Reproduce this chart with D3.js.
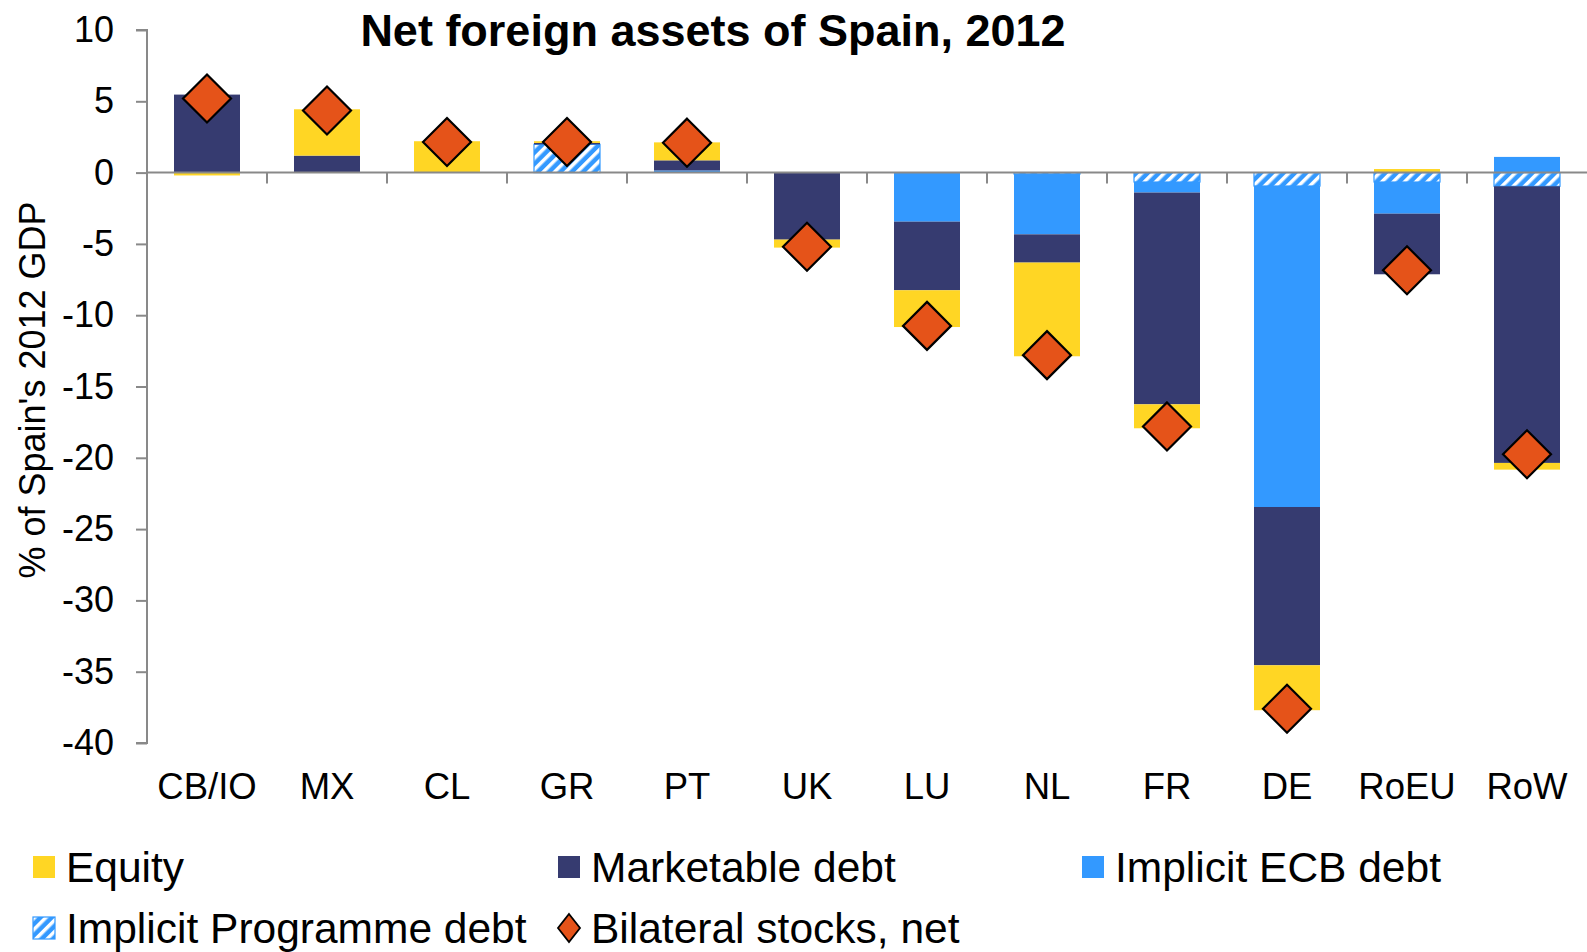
<!DOCTYPE html>
<html>
<head>
<meta charset="utf-8">
<script src="https://cdn.jsdelivr.net/npm/d3@7"></script>
<style>
  html, body { margin: 0; padding: 0; background: #fff; }
  svg { display: block; font-family: "Liberation Sans", Arial, Helvetica, sans-serif; }
</style>
</head>
<body>
<svg id="chart" width="1587" height="952"></svg>
<script>
// ---- data ----
const categories = ["CB/IO","MX","CL","GR","PT","UK","LU","NL","FR","DE","RoEU","RoW"];
const programmeDebt = [0, 0, 0, 1.98, 0, 0, 0, -0.1, -0.66, -0.94, -0.66, -0.96];
const ecbDebt       = [0, 0, 0, 0, 0.15, 0, -3.44, -4.23, -0.74, -22.51, -2.22, 1.1];
const marketable    = [5.47, 1.19, 0, 0.1, 0.71, -4.7, -4.81, -1.98, -14.85, -11.1, -4.25, -19.4];
const equity        = [-0.2, 3.25, 2.2, 0.12, 1.26, -0.56, -2.58, -6.57, -1.68, -3.15, 0.25, -0.47];
const bilateralNet  = [5.2, 4.35, 2.15, 2.15, 2.1, -5.2, -10.75, -12.8, -17.8, -37.6, -6.85, -19.75];
const yTicks = [10, 5, 0, -5, -10, -15, -20, -25, -30, -35, -40];

const seriesKeys = ["programme", "ecb", "marketable", "equity"];
const table = categories.map((c, i) => ({
  cat: c,
  programme: programmeDebt[i],
  ecb: ecbDebt[i],
  marketable: marketable[i],
  equity: equity[i],
  net: bilateralNet[i]
}));

const colors = {
  equity: "#FFD624",
  marketable: "#363B70",
  ecb: "#3399FF",
  programme: "url(#hatch)",
  diamond: "#E55319"
};

const svg = d3.select("#chart");
const plotLeft = 147, plotRight = 1587, plotTop = 30, plotBottom = 743;

// hatch pattern
const defs = svg.append("defs");
const pat = defs.append("pattern")
  .attr("id", "hatch")
  .attr("patternUnits", "userSpaceOnUse")
  .attr("width", 8).attr("height", 8)
  .attr("patternTransform", "rotate(45)");
pat.append("rect").attr("width", 8).attr("height", 8).attr("fill", "#3399FF");
pat.append("rect").attr("width", 3.5).attr("height", 8).attr("fill", "#ffffff");

const x = d3.scaleBand().domain(categories).range([plotLeft, plotRight])
  .paddingInner(0.45).paddingOuter(0.225);
const y = d3.scaleLinear().domain([-40, 10]).range([plotBottom, plotTop]);

const stack = d3.stack().keys(seriesKeys).offset(d3.stackOffsetDiverging);
const stacked = stack(table);

// bars
const g = svg.append("g");
stacked.forEach(layer => {
  g.append("g").selectAll("rect").data(layer.filter(d => d[0] !== d[1])).join("rect")
    .attr("x", d => x(d.data.cat))
    .attr("width", x.bandwidth())
    .attr("y", d => y(Math.max(d[0], d[1])))
    .attr("height", d => Math.abs(y(d[0]) - y(d[1])))
    .attr("fill", colors[layer.key])
    .attr("stroke", layer.key === "programme" ? "#3399FF" : "none")
    .attr("stroke-width", layer.key === "programme" ? 1.2 : 0);
});

// y axis
const axisColor = "#898989";
const yAxis = svg.append("g").attr("transform", `translate(${plotLeft},0)`)
  .call(d3.axisLeft(y).tickValues(yTicks).tickSize(11).tickPadding(22).tickFormat(d => String(d)));
yAxis.select(".domain").attr("stroke", axisColor).attr("stroke-width", 2)
  .attr("d", `M-11,${y(10)}H0V${y(-40)}H-11`);
yAxis.selectAll(".tick line").attr("stroke", axisColor).attr("stroke-width", 2);
yAxis.selectAll(".tick text").attr("fill", "#000").attr("font-size", 36)
  .attr("font-family", "'Liberation Sans', Arial, sans-serif");

// x axis at zero
const zeroY = y(0);
svg.append("line").attr("x1", plotLeft).attr("x2", plotRight).attr("y1", zeroY).attr("y2", zeroY)
  .attr("stroke", axisColor).attr("stroke-width", 2);
const step = x.step();
svg.append("g").selectAll("line").data(categories.slice(1)).join("line")
  .attr("x1", d => x(d) - x.paddingInner() * step / 2)
  .attr("x2", d => x(d) - x.paddingInner() * step / 2)
  .attr("y1", zeroY).attr("y2", zeroY + 11)
  .attr("stroke", axisColor).attr("stroke-width", 2);

// category labels
svg.append("g").selectAll("text").data(categories).join("text")
  .attr("x", d => x(d) + x.bandwidth() / 2)
  .attr("y", 799)
  .attr("text-anchor", "middle")
  .attr("font-size", 36.5)
  .text(d => d);

// diamonds
const dh = 24;
svg.append("g").selectAll("path").data(table).join("path")
  .attr("transform", d => `translate(${x(d.cat) + x.bandwidth() / 2},${y(d.net)})`)
  .attr("d", `M0,${-dh}L${dh},0L0,${dh}L${-dh},0Z`)
  .attr("fill", colors.diamond)
  .attr("stroke", "#000").attr("stroke-width", 2.2);

// title
svg.append("text").attr("x", 713).attr("y", 46).attr("text-anchor", "middle")
  .attr("font-size", 45).attr("font-weight", "bold")
  .text("Net foreign assets of Spain, 2012");

// y axis title
svg.append("text")
  .attr("transform", "translate(45,390) rotate(-90)")
  .attr("text-anchor", "middle")
  .attr("font-size", 36)
  .text("% of Spain's 2012 GDP");

// legend
const legendItems = [
  { label: "Equity", key: "equity", x: 33, y: 867 },
  { label: "Marketable debt", key: "marketable", x: 558, y: 867 },
  { label: "Implicit ECB debt", key: "ecb", x: 1082, y: 867 },
  { label: "Implicit Programme debt", key: "programme", x: 33, y: 928 },
  { label: "Bilateral stocks, net", key: "diamond", x: 558, y: 928 }
];
const lg = svg.append("g").selectAll("g").data(legendItems).join("g")
  .attr("transform", d => `translate(${d.x},${d.y})`);
lg.each(function(d) {
  const s = d3.select(this);
  if (d.key === "diamond") {
    s.append("path").attr("d", "M11,-14L22,0L11,14L0,0Z")
      .attr("fill", colors.diamond).attr("stroke", "#000").attr("stroke-width", 1.8);
  } else {
    s.append("rect").attr("x", 0).attr("y", -11).attr("width", 22).attr("height", 22)
      .attr("fill", colors[d.key])
      .attr("stroke", d.key === "programme" ? "#3399FF" : "none")
      .attr("stroke-width", 1.2);
  }
  s.append("text").attr("x", 33).attr("y", 15).attr("font-size", 42.5).text(d.label);
});
</script>
</body>
</html>
